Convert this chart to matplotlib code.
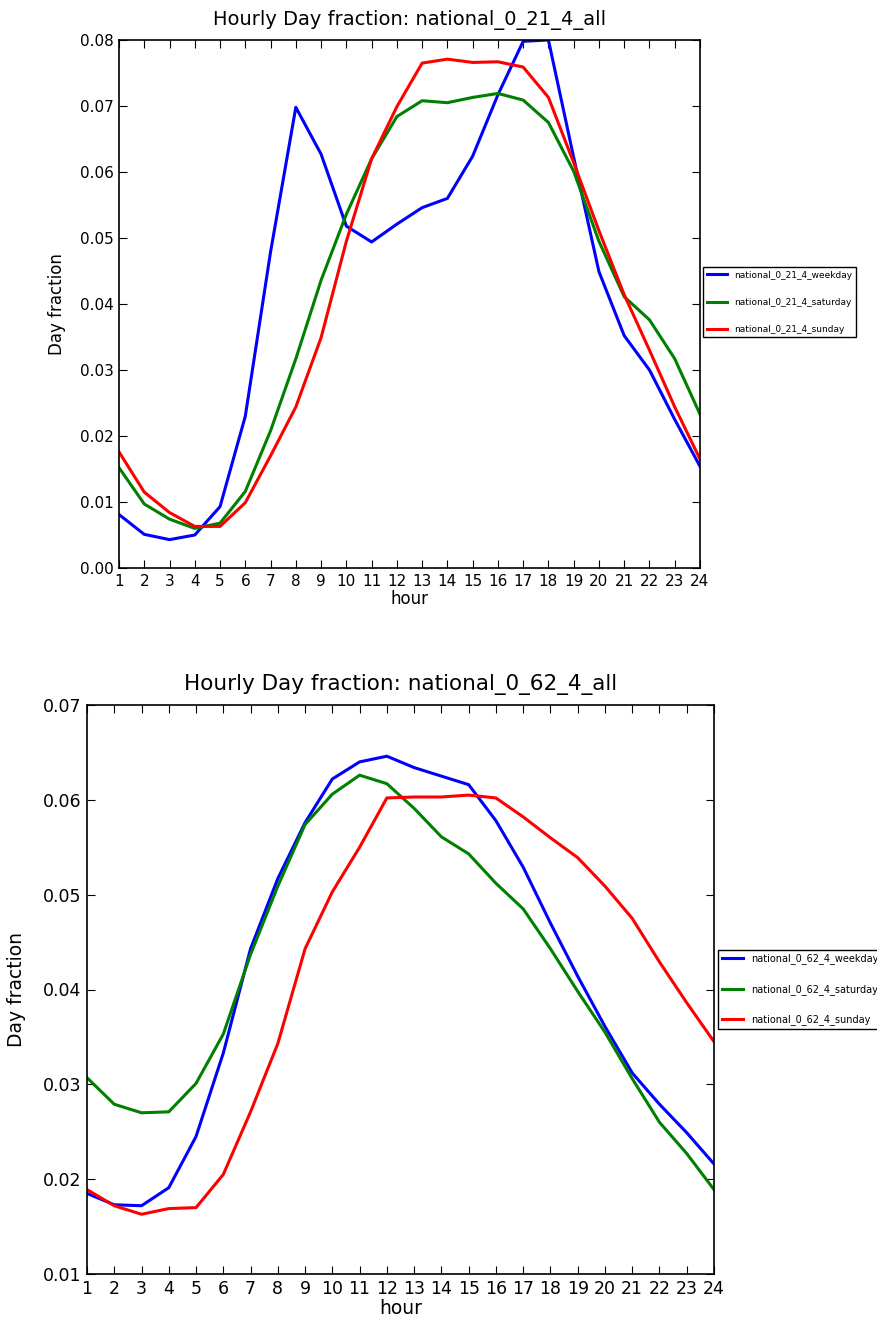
import matplotlib
matplotlib.use("Agg")
import matplotlib.pyplot as plt

hours = list(range(1, 25))

# national_0_21_4
top_weekday = [0.0081, 0.0051, 0.0043, 0.0050, 0.0093, 0.0230, 0.0479, 0.0698, 0.0627, 0.0518, 0.0494, 0.0521,
               0.0546, 0.0560, 0.0624, 0.0717, 0.0798, 0.0800, 0.0622, 0.0449, 0.0352, 0.0300, 0.0225, 0.0154]
top_saturday = [0.0152, 0.0097, 0.0074, 0.0060, 0.0068, 0.0116, 0.0208, 0.0317, 0.0436, 0.0536, 0.0620, 0.0684,
                0.0708, 0.0705, 0.0713, 0.0719, 0.0709, 0.0675, 0.0601, 0.0495, 0.0411, 0.0376, 0.0317, 0.0233]
top_sunday = [0.0176, 0.0115, 0.0084, 0.0063, 0.0063, 0.0099, 0.0170, 0.0244, 0.0349, 0.0495, 0.0620, 0.0699,
              0.0765, 0.0771, 0.0766, 0.0767, 0.0759, 0.0713, 0.0614, 0.0511, 0.0414, 0.0330, 0.0244, 0.0165]

# national_0_62_4
bot_weekday = [0.0185, 0.0173, 0.0172, 0.0191, 0.0245, 0.0333, 0.0443, 0.0517, 0.0576, 0.0622, 0.0640, 0.0646,
               0.0634, 0.0625, 0.0616, 0.0578, 0.0529, 0.0470, 0.0414, 0.0361, 0.0312, 0.0279, 0.0249, 0.0216]
bot_saturday = [0.0307, 0.0279, 0.0270, 0.0271, 0.0301, 0.0353, 0.0437, 0.0509, 0.0574, 0.0606, 0.0626, 0.0617,
                0.0591, 0.0561, 0.0543, 0.0512, 0.0485, 0.0443, 0.0398, 0.0355, 0.0306, 0.0260, 0.0227, 0.0189]
bot_sunday = [0.0189, 0.0172, 0.0163, 0.0169, 0.0170, 0.0205, 0.0271, 0.0343, 0.0443, 0.0503, 0.0550, 0.0602,
              0.0603, 0.0603, 0.0605, 0.0602, 0.0582, 0.0560, 0.0539, 0.0509, 0.0475, 0.0429, 0.0386, 0.0345]

W, H = 878, 1318
fig = plt.figure(figsize=(W / 100, H / 100), dpi=100, facecolor="white")


def make_axes(left, top, right, bottom):
    return fig.add_axes([left / W, 1 - bottom / H, (right - left) / W, (bottom - top) / H])


def draw(ax, name, series, ylim, yticks, fs, title_fs, legend_fs, anchor_y, ylabel_pad):
    for vals, col, suffix in series:
        ax.plot(hours, vals, color=col, lw=2.2, label=f"{name}_{suffix}")
    ax.set_xlim(1, 24)
    ax.set_ylim(*ylim)
    ax.set_xticks(hours)
    ax.set_yticks(yticks)
    ax.set_yticklabels([f"{t:.2f}" for t in yticks])
    ax.tick_params(direction="in", top=True, right=True, length=6, labelsize=fs, pad=4)
    for sp in ax.spines.values():
        sp.set_linewidth(1.2)
    ax.set_title(f"Hourly Day fraction: {name}_all", fontsize=title_fs, pad=11)
    ax.set_xlabel("hour", fontsize=fs + 1, labelpad=1)
    ax.set_ylabel("Day fraction", fontsize=fs + 1, labelpad=ylabel_pad)
    leg = ax.legend(loc="upper left", bbox_to_anchor=(1.006, anchor_y), fontsize=legend_fs,
                    fancybox=False, framealpha=1, edgecolor="black", handlelength=2.2,
                    labelspacing=2.0, borderaxespad=0)
    leg.get_frame().set_linewidth(1.0)


ax1 = make_axes(119, 40, 700, 568)
draw(ax1, "national_0_21_4",
     [(top_weekday, "blue", "weekday"), (top_saturday, "green", "saturday"), (top_sunday, "red", "sunday")],
     (0, 0.08), [i / 100 for i in range(9)], 11, 14, 6.5, 0.57, 10)

ax2 = make_axes(87, 705, 714, 1274)
draw(ax2, "national_0_62_4",
     [(bot_weekday, "blue", "weekday"), (bot_saturday, "green", "saturday"), (bot_sunday, "red", "sunday")],
     (0.01, 0.07), [i / 100 for i in range(1, 8)], 12.5, 15.5, 7, 0.57, 12)

fig.savefig("out.png", dpi=100, facecolor="white")
